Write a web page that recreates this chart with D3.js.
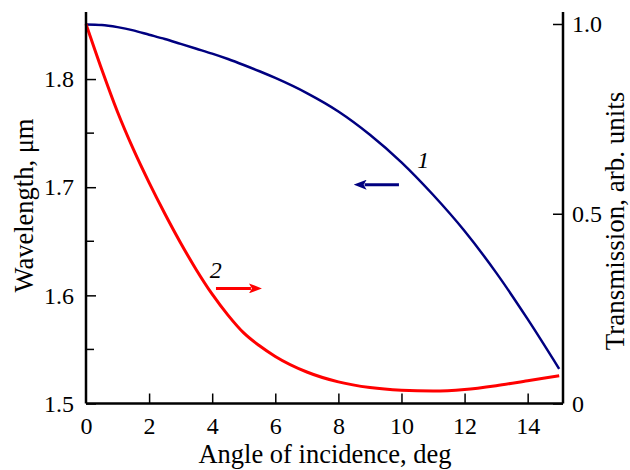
<!DOCTYPE html>
<html>
<head>
<meta charset="utf-8">
<script src="https://cdn.jsdelivr.net/npm/d3@7"></script>
<style>
  body { margin: 0; background: #fff; }
  svg text { font-family: serif; }
</style>
</head>
<body>
<div id="chart"></div>
<script>
const width = 630;
const height = 470;

// Data
const angles = [0, 0.5, 1, 1.5, 2, 2.5, 3, 3.5, 4, 4.5, 5, 5.5, 6, 7, 8, 9, 10, 11, 12, 13, 14, 15];
const wavelength = [1.8505, 1.8500, 1.8480, 1.8450, 1.8410, 1.8370, 1.8325, 1.8280, 1.8235, 1.8185, 1.8130,
  1.8072, 1.8010, 1.7870, 1.7700, 1.7485, 1.7230, 1.6930, 1.6595, 1.6210, 1.5780, 1.5320];
const transmission = [1.000, 0.880, 0.768, 0.670, 0.582, 0.500, 0.423, 0.352, 0.288, 0.233, 0.186,
  0.152, 0.124, 0.083, 0.057, 0.042, 0.035, 0.033, 0.037, 0.047, 0.060, 0.073];

const xTicks = [0, 2, 4, 6, 8, 10, 12, 14];
const yLeftTicks = [1.5, 1.6, 1.7, 1.8];
const yLeftMinor = [1.55, 1.65, 1.75];
const yRightTicks = [0, 0.5, 1.0];
const yRightLabels = ['0', '0.5', '1.0'];

// SVG values
const plotLeft = 86;
const plotRight = 563;
const plotBottom = 403.5;
const plotTop = 12;
const tickFont = '24px';
const titleFont = '26.5px';

const x = d3.scaleLinear().domain([0, 15.12]).range([plotLeft, plotRight]);
const yLeft = d3.scaleLinear().domain([1.5, 1.862]).range([plotBottom, plotTop]);
const yRight = d3.scaleLinear().domain([0, 1.0316]).range([plotBottom, plotTop]);

const svg = d3.select('#chart').append('svg')
  .attr('width', width)
  .attr('height', height);

const defs = svg.append('defs');
function marker (id, color) {
  defs.append('marker')
    .attr('id', id)
    .attr('viewBox', '0 0 13 10')
    .attr('refX', 2)
    .attr('refY', 5)
    .attr('markerWidth', 13)
    .attr('markerHeight', 10)
    .attr('markerUnits', 'userSpaceOnUse')
    .attr('orient', 'auto')
    .append('path')
      .attr('d', 'M0,0 L13,5 L0,10 L3,5 Z')
      .attr('fill', color);
}
marker('arrow-blue', '#000080');
marker('arrow-red', '#ff0000');

function styleAxis (g) {
  g.attr('font-family', null).attr('font-size', null);
  g.selectAll('.domain').attr('stroke', '#000').attr('stroke-width', 2.5);
  g.selectAll('.tick line').attr('stroke', '#000').attr('stroke-width', 1.5);
  g.selectAll('.tick text')
    .attr('fill', '#000')
    .style('font-family', 'serif')
    .style('font-size', tickFont);
}

// curves
const lineBlue = d3.line()
  .x((d, i) => x(angles[i]))
  .y(d => yLeft(d))
  .curve(d3.curveMonotoneX);

const lineRed = d3.line()
  .x((d, i) => x(angles[i]))
  .y(d => yRight(d))
  .curve(d3.curveMonotoneX);

svg.append('path')
  .attr('d', lineBlue(wavelength))
  .attr('fill', 'none')
  .attr('stroke', '#000080')
  .attr('stroke-width', 2.5);

svg.append('path')
  .attr('d', lineRed(transmission))
  .attr('fill', 'none')
  .attr('stroke', '#ff0000')
  .attr('stroke-width', 3);

// axes
svg.append('g')
  .attr('transform', `translate(0, ${plotBottom})`)
  .call(d3.axisBottom(x).tickValues(xTicks).tickSize(-10).tickSizeOuter(0).tickPadding(13))
  .call(g => g.select('.domain').attr('d', `M${plotLeft},0H${plotRight}`))
  .call(g => g.selectAll('.tick').filter(d => d === 0).select('line').remove())
  .call(styleAxis);

svg.append('g')
  .attr('transform', `translate(${plotLeft}, 0)`)
  .call(d3.axisLeft(yLeft).tickValues(yLeftTicks).tickFormat(d3.format('.1f')).tickSize(-10).tickSizeOuter(0).tickPadding(12))
  .call(g => g.select('.domain').attr('d', `M0,${plotTop}V${plotBottom}`))
  .call(styleAxis);

svg.append('g')
  .attr('transform', `translate(${plotLeft}, 0)`)
  .selectAll('line')
  .data(yLeftMinor)
  .join('line')
    .attr('x1', 0)
    .attr('x2', 8)
    .attr('y1', d => yLeft(d))
    .attr('y2', d => yLeft(d))
    .attr('stroke', '#000')
    .attr('stroke-width', 1.5);

svg.append('g')
  .attr('transform', `translate(${plotRight}, 0)`)
  .call(d3.axisRight(yRight).tickValues(yRightTicks).tickFormat((d, i) => yRightLabels[i]).tickSize(-10).tickSizeOuter(0).tickPadding(9))
  .call(g => g.select('.domain').attr('d', `M0,${plotTop}V${plotBottom}`))
  .call(styleAxis);

// axis titles
svg.append('text')
  .attr('x', 325)
  .attr('y', 463)
  .attr('text-anchor', 'middle')
  .style('font-family', 'serif')
  .style('font-size', titleFont)
  .text('Angle of incidence, deg');

svg.append('text')
  .attr('transform', 'translate(33, 205.5) rotate(-90)')
  .attr('text-anchor', 'middle')
  .style('font-family', 'serif')
  .style('font-size', titleFont)
  .text('Wavelength, \u03bcm');

svg.append('text')
  .attr('transform', 'translate(624, 221) rotate(-90)')
  .attr('text-anchor', 'middle')
  .style('font-family', 'serif')
  .style('font-size', '27px')
  .text('Transmission, arb. units');

// curve labels and arrows
svg.append('line')
  .attr('x1', x(9.92)).attr('x2', x(8.42) + 13)
  .attr('y1', yLeft(1.7023)).attr('y2', yLeft(1.7023))
  .attr('stroke', '#000080')
  .attr('stroke-width', 3)
  .attr('marker-end', 'url(#arrow-blue)');

svg.append('line')
  .attr('x1', x(4.12)).attr('x2', x(5.64) - 13)
  .attr('y1', yRight(0.3033)).attr('y2', yRight(0.3033))
  .attr('stroke', '#ff0000')
  .attr('stroke-width', 3)
  .attr('marker-end', 'url(#arrow-red)');

svg.append('text')
  .attr('x', x(10.5))
  .attr('y', yLeft(1.718))
  .style('font-family', 'serif')
  .style('font-size', tickFont)
  .style('font-style', 'italic')
  .text('1');

svg.append('text')
  .attr('x', x(3.92))
  .attr('y', yRight(0.33))
  .style('font-family', 'serif')
  .style('font-size', tickFont)
  .style('font-style', 'italic')
  .text('2');
</script>
</body>
</html>
